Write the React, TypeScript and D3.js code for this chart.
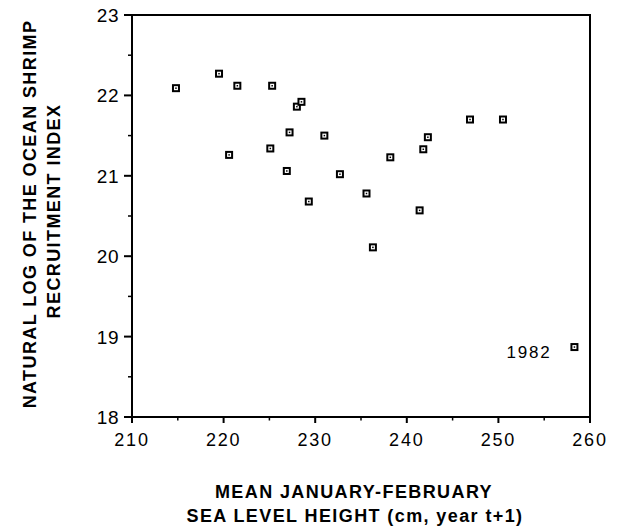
import React, { useRef, useEffect } from "react";
import * as d3 from "d3";

// mean Jan-Feb sea level height (cm, year t+1)
const seaLevel = [
  214.8, 219.5, 221.5, 225.3, 220.6, 225.1, 227.2, 228.0, 228.5, 226.9, 229.3,
  231.0, 232.7, 235.6, 236.3, 238.2, 241.4, 241.8, 242.3, 246.9, 250.5, 258.3,
];
// ln of ocean shrimp recruitment index
const lnRecruit = [
  22.09, 22.27, 22.12, 22.12, 21.26, 21.34, 21.54, 21.86, 21.92, 21.06, 20.68,
  21.5, 21.02, 20.78, 20.11, 21.23, 20.57, 21.33, 21.48, 21.7, 21.7, 18.87,
];
const pointLabels = ["", "", "", "", "", "", "", "", "", "", "", "", "", "", "", "", "", "", "", "", "", "1982"];
const xTicks = [210, 220, 230, 240, 250, 260];
const xMinor = [215, 225, 235, 245, 255];
const yTicks = [18, 19, 20, 21, 22, 23];
const yMinor = [18.5, 19.5, 20.5, 21.5, 22.5];

const W = 620;
const H = 527;

const Chart = () => {
  const svgRef = useRef(null);

  useEffect(() => {
    const left = 132, right = 590, top = 15, bottom = 417;
    const font = "'Liberation Sans', Arial, Helvetica, sans-serif";

    const svg = d3.select(svgRef.current);
    svg.selectAll("*").remove();

    const x = d3.scaleLinear().domain([210, 260]).range([left, right]);
    const y = d3.scaleLinear().domain([18, 23]).range([bottom, top]);

    // frame
    svg.append("rect")
      .attr("x", left).attr("y", top)
      .attr("width", right - left).attr("height", bottom - top)
      .attr("fill", "none").attr("stroke", "#000").attr("stroke-width", 2);

    // y ticks
    svg.selectAll(".ymaj").data(yTicks).enter().append("line")
      .attr("x1", left - 8).attr("x2", left)
      .attr("y1", d => y(d)).attr("y2", d => y(d))
      .attr("stroke", "#000").attr("stroke-width", 2);
    svg.selectAll(".ymin").data(yMinor).enter().append("line")
      .attr("x1", left - 4).attr("x2", left)
      .attr("y1", d => y(d)).attr("y2", d => y(d))
      .attr("stroke", "#000").attr("stroke-width", 1.5);
    svg.selectAll(".ylab").data(yTicks).enter().append("text")
      .attr("x", 119).attr("y", d => y(d) + 7)
      .attr("text-anchor", "end")
      .attr("font-family", font).attr("font-size", 19)
      .attr("letter-spacing", 0.5)
      .text(d => d);

    // x ticks
    svg.selectAll(".xmaj").data(xTicks).enter().append("line")
      .attr("x1", d => x(d)).attr("x2", d => x(d))
      .attr("y1", bottom).attr("y2", bottom + 6)
      .attr("stroke", "#000").attr("stroke-width", 2);
    svg.selectAll(".xmin").data(xMinor).enter().append("line")
      .attr("x1", d => x(d)).attr("x2", d => x(d))
      .attr("y1", bottom).attr("y2", bottom + 3.5)
      .attr("stroke", "#000").attr("stroke-width", 1.5);
    svg.selectAll(".xlab").data(xTicks).enter().append("text")
      .attr("x", d => x(d)).attr("y", 446)
      .attr("text-anchor", "middle")
      .attr("font-family", font).attr("font-size", 18)
      .attr("letter-spacing", 1.8)
      .text(d => d);

    // points
    const pts = svg.selectAll(".pt").data(seaLevel).enter().append("g")
      .attr("transform", (d, i) => `translate(${x(d)},${y(lnRecruit[i])})`);
    pts.append("rect").attr("x", -4).attr("y", -4).attr("width", 8).attr("height", 8).attr("fill", "#000");
    pts.append("rect").attr("x", -2).attr("y", -2).attr("width", 4).attr("height", 4).attr("fill", "#fff");
    pts.append("rect").attr("x", -0.75).attr("y", -0.75).attr("width", 1.5).attr("height", 1.5).attr("fill", "#000");

    svg.selectAll(".plab").data(seaLevel).enter().append("text")
      .attr("x", d => x(d) - 23).attr("y", (d, i) => y(lnRecruit[i]) + 11)
      .attr("text-anchor", "end")
      .attr("font-family", font).attr("font-size", 17)
      .attr("letter-spacing", 1.8)
      .text((d, i) => pointLabels[i]);

    // axis titles
    const xt = svg.append("text")
      .attr("text-anchor", "middle")
      .attr("font-family", font).attr("font-size", 18).attr("font-weight", "bold")
      .attr("letter-spacing", 1.4);
    xt.append("tspan").attr("x", 354).attr("y", 498).text("MEAN JANUARY-FEBRUARY");
    xt.append("tspan").attr("x", 355).attr("y", 522).text("SEA LEVEL HEIGHT (cm, year t+1)");

    const yt = svg.append("text")
      .attr("transform", "rotate(-90)")
      .attr("text-anchor", "middle")
      .attr("font-family", font).attr("font-size", 18).attr("font-weight", "bold")
      .attr("letter-spacing", 1.4);
    yt.append("tspan").attr("x", -214).attr("y", 36).text("NATURAL LOG OF THE OCEAN SHRIMP");
    yt.append("tspan").attr("x", -211).attr("y", 60).text("RECRUITMENT INDEX");
  }, []);

  return (
    <svg
      ref={svgRef}
      width={W}
      height={H}
      style={{ position: "absolute", left: 0, top: 0, background: "#fff" }}
    />
  );
};

export default function App() {
  return <Chart />;
}
